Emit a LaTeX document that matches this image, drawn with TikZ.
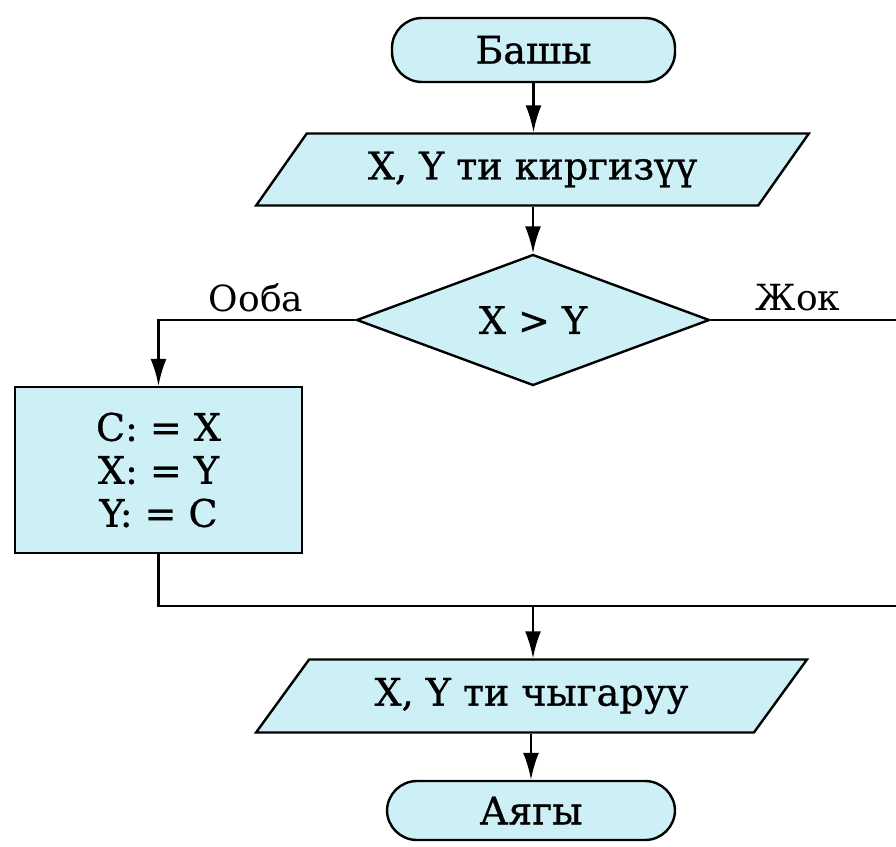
\documentclass[tikz,border=0pt]{standalone}
\usepackage{fontspec}
\setmainfont{DejaVu Serif}
\newfontfamily\diagfont[FakeBold=0.8]{DejaVu Serif}
\usetikzlibrary{shapes.geometric,arrows.meta}
\definecolor{boxfill}{RGB}{204,240,245}
\tikzset{
  base/.style={draw=black, line width=2.4pt, fill=boxfill, inner sep=0pt, font=\diagfont\fontsize{38}{46}\selectfont},
  term/.style={base, rectangle, rounded corners=30pt},
  io/.style={base, trapezium, trapezium stretches=true, trapezium left angle=44, trapezium right angle=136},
  dec/.style={base, diamond},
  proc/.style={base, rectangle, align=center},
  lbl/.style={font=\fontsize{36}{44}\selectfont, inner sep=0pt},
  conn/.style={draw=black, line width=2.4pt},
  arr/.style={conn, -{Latex[length=27pt,width=16pt]}}
}
\begin{document}
\begin{tikzpicture}[x=1pt,y=-1pt]
\useasboundingbox (0,0) rectangle (896,846);
\node[term, minimum width=283pt, minimum height=64pt] (start) at (533.5,50) {Башы};
\node[io, minimum width=555pt, minimum height=72pt] (inp) at (532.5,169.5) {X, Y ти киргизүү};
\node[dec, minimum width=353pt, minimum height=131pt, aspect=2.7] (cond) at (533,320) {X > Y};
\node[proc, minimum width=287pt, minimum height=166pt] (swap) at (158.5,470) {C: = X\\[-3pt]X: = Y\\[-3pt]Y: = C};
\node[io, minimum width=553pt, minimum height=73pt] (outp) at (531.5,696) {X, Y ти чыгаруу};
\node[term, minimum width=288pt, minimum height=59pt] (fin) at (531,810.5) {Аягы};
\node[lbl] (yes) at (256,298) {Ооба};
\node[lbl] (no) at (798,298) {Жок};
\coordinate (noR) at (896,320);
\coordinate (joinR) at (896,606);
\coordinate (joinM) at (533,606);
\draw[arr] (start.south) -- (start.south |- inp.north);
\draw[arr] (cond.north |- inp.south) -- (cond.north);
\draw[arr] (cond.west) -| (swap.north);
\draw[conn] (cond.east) -- (noR);
\draw[conn] (swap.south) |- (joinR);
\draw[arr] (joinM) -- (joinM |- outp.north);
\draw[arr] (fin.north |- outp.south) -- (fin.north);
\end{tikzpicture}
\end{document}
